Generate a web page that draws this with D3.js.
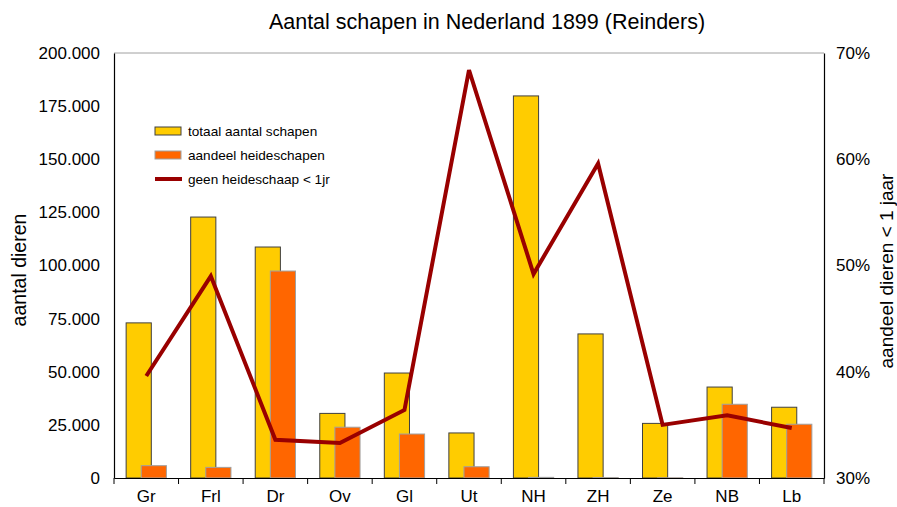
<!DOCTYPE html>
<html>
<head>
<meta charset="utf-8">
<script src="https://cdn.jsdelivr.net/npm/d3@7"></script>
<style>
  body { margin: 0; background: #fff; }
  svg { font-family: "Liberation Sans", Arial, sans-serif; }
</style>
</head>
<body>
<svg id="chart" width="897" height="507"></svg>
<script>
/* Aantal schapen 1899 – bars + line on secondary axis */

const provinces = ['Gr', 'Frl', 'Dr', 'Ov', 'Gl', 'Ut', 'NH', 'ZH', 'Ze', 'NB', 'Lb'];
const totaal    = [73000, 122800, 108700, 30400, 49400, 21200, 179800, 67800, 25700, 42800, 33300];
const heide     = [5800, 5000, 97400, 23900, 20700, 5300, 300, 200, 100, 34700, 25300];
const jongPct   = [39.6, 49.0, 33.6, 33.3, 36.4, 68.4, 49.2, 59.6, 35.0, 35.9, 34.7];
const leftTicks  = [0, 25000, 50000, 75000, 100000, 125000, 150000, 175000, 200000];
const rightTicks = [30, 40, 50, 60, 70];

const M = { left: 114, right: 824, top: 53, bottom: 478 };
const svg = d3.select('#chart');

const x = d3.scaleBand().domain(provinces).range([M.left, M.right]);
const y = d3.scaleLinear().domain([0, 200000]).range([M.bottom, M.top]);
const y2 = d3.scaleLinear().domain([30, 70]).range([M.bottom, M.top]);

const fmt = v => v === 0 ? '0' : d3.format(',')(v).replace(/,/g, '.');

// frame: grey top line
svg.append('line')
  .attr('x1', M.left).attr('x2', M.right).attr('y1', M.top).attr('y2', M.top)
  .attr('stroke', '#a0a0a0');

// bars
const bw = x.bandwidth() * 0.39;
const mid = d => x(d) + x.bandwidth() / 2;

svg.append('g').selectAll('rect')
  .data(provinces).join('rect')
  .attr('x', (d) => mid(d) - bw * 0.8)
  .attr('width', bw)
  .attr('y', (d, i) => y(totaal[i]))
  .attr('height', (d, i) => y(0) - y(totaal[i]))
  .attr('fill', '#ffcc00')
  .attr('stroke', '#404040').attr('stroke-width', 1);

svg.append('g').selectAll('rect')
  .data(provinces).join('rect')
  .attr('x', (d) => mid(d) - bw * 0.2)
  .attr('width', bw)
  .attr('y', (d, i) => y(heide[i]))
  .attr('height', (d, i) => y(0) - y(heide[i]))
  .attr('fill', '#ff6600')
  .attr('stroke', '#a0a0a0').attr('stroke-width', 1);

// line
const line = d3.line()
  .x((d, i) => mid(provinces[i]))
  .y(d => y2(d));
svg.append('path')
  .datum(jongPct)
  .attr('d', line)
  .attr('fill', 'none')
  .attr('stroke', '#990000')
  .attr('stroke-width', 4)
  .attr('stroke-linejoin', 'miter');

// axes
const axL = svg.append('g').attr('transform', `translate(${M.left},0)`)
  .call(d3.axisLeft(y).tickValues(leftTicks).tickFormat(fmt).tickSize(0).tickPadding(14));
const axR = svg.append('g').attr('transform', `translate(${M.right},0)`)
  .call(d3.axisRight(y2).tickValues(rightTicks).tickFormat(d => d + '%').tickSize(0).tickPadding(12));
const axB = svg.append('g').attr('transform', `translate(0,${M.bottom})`)
  .call(d3.axisBottom(x).tickSize(0).tickPadding(12));

[axL, axR, axB].forEach(a => {
  a.select('.domain').attr('stroke', '#000').attr('stroke-width', 1.2);
  a.selectAll('text').attr('font-size', 17).attr('fill', '#000')
    .attr('font-family', '"Liberation Sans", Arial, sans-serif');
});

// category separator ticks on bottom axis
svg.append('g').selectAll('line')
  .data(provinces.concat(['__end'])).join('line')
  .attr('x1', (d, i) => M.left + i * x.step())
  .attr('x2', (d, i) => M.left + i * x.step())
  .attr('y1', M.bottom).attr('y2', M.bottom + 6)
  .attr('stroke', '#000');

// titles
svg.append('text')
  .attr('x', 487).attr('y', 29)
  .attr('text-anchor', 'middle').attr('font-size', 21.5)
  .text('Aantal schapen in Nederland 1899 (Reinders)');

svg.append('text')
  .attr('transform', `translate(26,270) rotate(-90)`)
  .attr('text-anchor', 'middle').attr('font-size', 19.5)
  .text('aantal dieren');

svg.append('text')
  .attr('transform', `translate(893,271) rotate(-90)`)
  .attr('text-anchor', 'middle').attr('font-size', 19)
  .text('aandeel dieren < 1 jaar');

// legend
const legend = [
  { label: 'totaal aantal schapen', type: 'bar', fill: '#ffcc00', stroke: '#404040' },
  { label: 'aandeel heideschapen', type: 'bar', fill: '#ff6600', stroke: '#a0a0a0' },
  { label: 'geen heideschaap < 1jr', type: 'line', stroke: '#990000' }
];
const lg = svg.append('g').attr('transform', 'translate(155,131)');
legend.forEach((d, i) => {
  const g = lg.append('g').attr('transform', `translate(0,${i * 24})`);
  if (d.type === 'bar') {
    g.append('rect').attr('x', 0).attr('y', -4).attr('width', 26).attr('height', 8)
      .attr('fill', d.fill).attr('stroke', d.stroke);
  } else {
    g.append('line').attr('x1', 0).attr('x2', 27).attr('y1', 0).attr('y2', 0)
      .attr('stroke', d.stroke).attr('stroke-width', 4);
  }
  g.append('text').attr('x', 33).attr('y', 5).attr('font-size', 13.6).text(d.label);
});
</script>
</body>
</html>
